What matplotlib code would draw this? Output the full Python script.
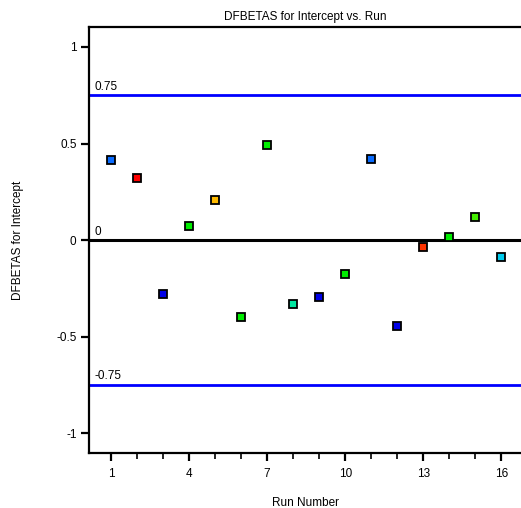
import matplotlib
matplotlib.use("Agg")
import matplotlib.pyplot as plt
from matplotlib.ticker import MultipleLocator

plt.rcParams['font.family'] = ['Liberation Sans', 'DejaVu Sans']

runs = list(range(1, 17))
dfbetas = [0.417, 0.32, -0.28, 0.073, 0.205, -0.397, 0.491, -0.33,
           -0.295, -0.174, 0.422, -0.443, -0.038, 0.017, 0.121, -0.087]
point_colors = ['#0a6cff', '#ff0000', '#0000e6', '#00ee00', '#ffbb00', '#00ee00',
                '#00ee00', '#00e6a0', '#0000e6', '#00ee00', '#0a6cff', '#0000e6',
                '#ff3300', '#00ee00', '#44ee00', '#00ccee']
limit = 0.75

fig = plt.figure(figsize=(5.21, 5.08), dpi=100)
ax = fig.add_axes([0.171, 0.108, 0.829, 0.839])

# reference lines
ax.axhline(0, color='black', linewidth=2.2, zorder=1)
ax.axhline(limit, color='#0000ff', linewidth=2, zorder=1)
ax.axhline(-limit, color='#0000ff', linewidth=2, zorder=1)
ax.text(0.35, limit + 0.012, f'{limit:g}', fontsize=8.5, va='bottom', ha='left')
ax.text(0.35, 0.012, '0', fontsize=8.5, va='bottom', ha='left')
ax.text(0.35, -limit + 0.012, f'{-limit:g}', fontsize=8.5, va='bottom', ha='left')

for r, v, c in zip(runs, dfbetas, point_colors):
    ax.plot(r, v, marker='s', markersize=5.6, markerfacecolor=c,
            markeredgecolor='black', markeredgewidth=1.3, linestyle='none', zorder=3)

ax.set_xlim(0.16, 16.75)
ax.set_ylim(-1.104, 1.104)
ax.set_xticks([1, 4, 7, 10, 13, 16])
ax.xaxis.set_minor_locator(MultipleLocator(1))
ax.set_yticks([-1, -0.5, 0, 0.5, 1])
ax.set_yticklabels(['-1', '-0.5', '0', '0.5', '1'])

ax.spines['right'].set_visible(False)
for s in ['left', 'top', 'bottom']:
    ax.spines[s].set_linewidth(1.6)
ax.tick_params(axis='both', which='major', direction='out', length=6, width=1.6, labelsize=8.5, pad=3)
ax.tick_params(axis='x', which='major', pad=5)
ax.tick_params(axis='x', which='minor', direction='out', length=4, width=1.2)

ax.set_title('DFBETAS for Intercept vs. Run', fontsize=8.5, pad=5)
ax.set_xlabel('Run Number', fontsize=8.5, labelpad=12)
ax.set_ylabel('DFBETAS for Intercept', fontsize=8.5, labelpad=23)

fig.savefig('out.png', dpi=100)
